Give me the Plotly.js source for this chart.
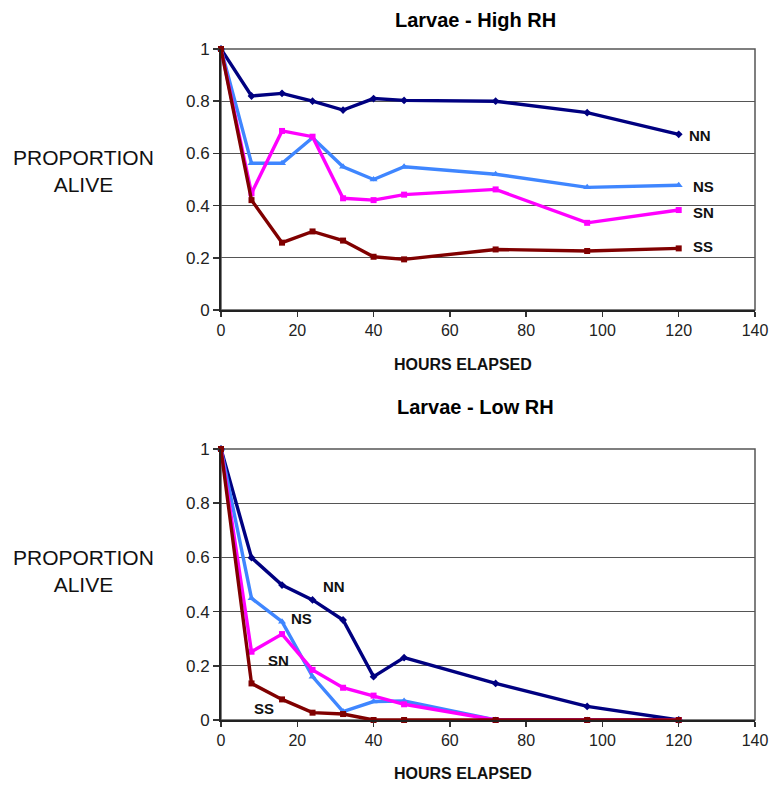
<!DOCTYPE html>
<html>
<head>
<meta charset="utf-8">
<script src="https://cdn.plot.ly/plotly-3.0.1.min.js"></script>
<style>html,body{margin:0;padding:0;background:#fff;}#chart{width:769px;height:785px;}</style>
</head>
<body>
<div id="chart"></div>
<script>
// ---- data ----
const hours = [0, 8, 16, 24, 32, 40, 48, 72, 96, 120];
const seriesNames = ["NN", "NS", "SN", "SS"];

const highNN = [1, 0.82, 0.83, 0.80, 0.766, 0.81, 0.803, 0.80, 0.756, 0.673];
const highNS = [1, 0.562, 0.562, 0.66, 0.549, 0.50, 0.549, 0.52, 0.47, 0.478];
const highSN = [1, 0.447, 0.686, 0.664, 0.428, 0.421, 0.442, 0.462, 0.334, 0.383];
const highSS = [1, 0.421, 0.258, 0.301, 0.266, 0.204, 0.194, 0.232, 0.226, 0.236];

const lowNN = [1, 0.599, 0.498, 0.443, 0.369, 0.16, 0.23, 0.135, 0.05, 0];
const lowNS = [1, 0.449, 0.363, 0.16, 0.031, 0.068, 0.07, 0, 0, 0];
const lowSN = [1, 0.252, 0.317, 0.185, 0.119, 0.09, 0.058, 0, 0, 0];
const lowSS = [1, 0.135, 0.076, 0.027, 0.022, 0, 0, 0, 0, 0];

const titles = ["Larvae - High RH", "Larvae - Low RH"];
const yTitle = "PROPORTION<br>ALIVE";
const xTitle = "HOURS ELAPSED";

// label positions (data coords)
const highLabelX = [122.2, 123.2, 123.2, 123.2];
const highLabelY = [0.667, 0.475, 0.372, 0.243];
const lowLabelX = [29.6, 21.2, 15.0, 11.2];
const lowLabelY = [0.492, 0.375, 0.218, 0.043];

// ---- styles ----
const colors = ["#000080", "#3F86FF", "#FF00FF", "#800000"];
const symbols = ["diamond", "triangle-up", "square", "square"];
const msize = [6, 7, 6, 6];

function mk(y, i, xa, ya) {
  return {
    x: hours, y: y, type: "scatter", mode: "lines+markers",
    name: seriesNames[i], xaxis: xa, yaxis: ya,
    line: {color: colors[i], width: 3.4},
    marker: {color: colors[i], symbol: symbols[i], size: msize[i]},
    cliponaxis: false
  };
}

const high = [highNN, highNS, highSN, highSS];
const low = [lowNN, lowNS, lowSN, lowSS];
const traces = [];
[0,1,2,3].forEach(i => traces.push(mk(high[i], i, "x", "y")));
[0,1,2,3].forEach(i => traces.push(mk(low[i], i, "x2", "y2")));

const W = 769, H = 785;
const px = v => v / W;
const py = v => 1 - v / H;

const tickFont = {family: "Liberation Sans, Arial, sans-serif", size: 16, color: "#222"};
function xax(anchor) {
  return {
    domain: [px(221), px(755)], anchor: anchor, range: [0, 140],
    tickmode: "array", tickvals: [0,20,40,60,80,100,120,140],
    ticks: "outside", ticklen: 5, tickwidth: 1.5, tickcolor: "#333",
    showline: true, linecolor: "#222", linewidth: 2,
    showgrid: false, zeroline: false, tickfont: tickFont, fixedrange: true
  };
}
function yax(anchor, dom) {
  return {
    domain: dom, anchor: anchor, range: [0, 1],
    tickmode: "array", tickvals: [0,0.2,0.4,0.6,0.8,1], ticktext: ["0","0.2","0.4","0.6","0.8","1"],
    ticks: "outside", ticklen: 6, tickwidth: 1.5, tickcolor: "#333",
    showline: true, linecolor: "#222", linewidth: 2,
    showgrid: true, gridcolor: "#555", gridwidth: 1,
    zeroline: false, tickfont: {family: "Liberation Sans, Arial, sans-serif", size: 17, color: "#222"},
    fixedrange: true
  };
}

const ann = [];
const titleFont = {family: "Liberation Sans, Arial, sans-serif", size: 20, color: "#000", weight: "bold"};
const labFont = {family: "Liberation Sans, Arial, sans-serif", size: 21, color: "#111"};
const xtFont = {family: "Liberation Sans, Arial, sans-serif", size: 16, color: "#111", weight: "bold"};
const annFont = {family: "Liberation Sans, Arial, sans-serif", size: 15, color: "#111", weight: "bold"};

[[20, 364, 170.5], [407, 773, 570.5]].forEach((p, k) => {
  ann.push({xref: "paper", yref: "paper", x: px(475), y: py(p[0]), text: "<b>" + titles[k] + "</b>",
    showarrow: false, xanchor: "center", yanchor: "middle", font: titleFont});
  ann.push({xref: "paper", yref: "paper", x: px(463), y: py(p[1]), text: "<b>" + xTitle + "</b>",
    showarrow: false, xanchor: "center", yanchor: "middle", font: xtFont});
  ann.push({xref: "paper", yref: "paper", x: px(83), y: py(p[2]), text: yTitle,
    showarrow: false, xanchor: "center", yanchor: "middle", font: labFont, align: "center"});
});
seriesNames.forEach((n, i) => {
  ann.push({xref: "x", yref: "y", x: highLabelX[i], y: highLabelY[i], text: "<b>" + n + "</b>",
    showarrow: false, xanchor: "left", yanchor: "middle", font: annFont});
  ann.push({xref: "x2", yref: "y2", x: lowLabelX[i], y: lowLabelY[i], text: "<b>" + n + "</b>",
    showarrow: false, xanchor: "center", yanchor: "middle", font: annFont});
});

const shapes = [
  {type: "rect", xref: "x domain", yref: "y domain", x0: 0, x1: 1, y0: 0, y1: 1, line: {color: "#555", width: 1.5}, layer: "below"},
  {type: "rect", xref: "x2 domain", yref: "y2 domain", x0: 0, x1: 1, y0: 0, y1: 1, line: {color: "#555", width: 1.5}, layer: "below"}
];

const layout = {
  width: W, height: H,
  margin: {l: 0, r: 0, t: 0, b: 0},
  paper_bgcolor: "#fff", plot_bgcolor: "#fff",
  showlegend: false,
  xaxis: xax("y"), yaxis: yax("x", [py(310), py(49)]),
  xaxis2: xax("y2"), yaxis2: yax("x2", [py(720), py(449)]),
  annotations: ann, shapes: shapes,
  font: {family: "Liberation Sans, Arial, sans-serif"}
};

Plotly.newPlot("chart", traces, layout, {displayModeBar: false, staticPlot: true});
</script>
</body>
</html>
